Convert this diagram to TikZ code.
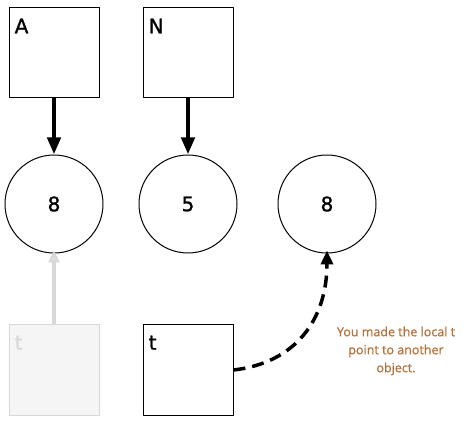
\documentclass[tikz,border=0pt]{standalone}
\usepackage{fontspec}
\setmainfont{DejaVu Sans}[FakeBold=1.3]
\newfontfamily\notefont{Open Sans}[FakeBold=0.8]
\usetikzlibrary{arrows.meta}
\definecolor{notecol}{RGB}{182,112,58}
\definecolor{fadeline}{RGB}{216,216,216}
\definecolor{fadefill}{RGB}{245,245,245}
\begin{document}
\begin{tikzpicture}[x=1pt, y=-1pt, line join=round, font=\fontsize{20}{22}\selectfont,
    refbox/.style={draw, line width=1pt, minimum size=90pt, inner sep=0pt},
    valcirc/.style={draw, circle, line width=1pt, minimum size=98pt, inner sep=0pt},
    boxname/.style={anchor=north west, inner sep=0pt},
    ptr/.style={line width=4.5pt, -{Triangle[length=17pt, width=13pt]}}]
	\useasboundingbox (0,0) rectangle (467,428);
	% boxes
	\node[refbox] (A) at (54,53) {};
	\node[refbox] (N) at (188,53) {};
	\node[refbox, draw=fadeline, fill=fadefill] (tOld) at (54,370) {};
	\node[refbox] (t) at (188,370) {};
	\node[boxname] at ([shift={(6,11)}]A.north west) {A};
	\node[boxname] at ([shift={(6,11)}]N.north west) {N};
	\node[boxname, text=fadeline] at ([shift={(6,11)}]tOld.north west) {t};
	\node[boxname] at ([shift={(6,11)}]t.north west) {t};
	% values
	\node[valcirc] (v1) at (54,204) {8};
	\node[valcirc] (v2) at (188,204) {5};
	\node[valcirc] (v3) at (327,204) {8};
	% pointers
	\draw[ptr] (A) -- (v1);
	\draw[ptr] (N) -- (v2);
	\draw[ptr, draw=fadeline, line width=4pt, -{Triangle[length=12pt, width=11pt, fill=fadefill]}] (tOld) -- ([yshift=3pt]v1.south);
	\draw[ptr, line width=3.5pt, dash pattern=on 12pt off 7pt, -{Triangle[length=14pt, width=12pt]}] (t.east) .. controls (295,363) and (327,320) .. ([yshift=3pt]v3.south);
	\node[font=\notefont\fontsize{12.5}{18}\selectfont, text=notecol, align=center] (note) at (396,351) {You made the local t\\point to another\\object.};
\end{tikzpicture}
\end{document}
